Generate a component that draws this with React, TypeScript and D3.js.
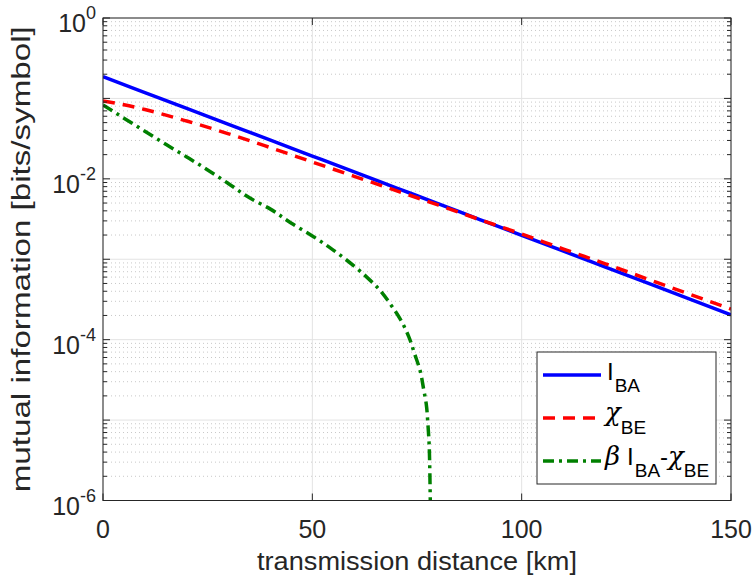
import React from "react";
import * as d3 from "d3";

const distBA = [0, 10, 20, 30, 40, 50, 60, 70, 80, 90, 100, 110, 120, 130, 140, 150];
const valBA = [0.186, 0.1181, 0.075, 0.0476, 0.0302, 0.0192, 0.0122, 0.00774, 0.00491, 0.00312, 0.00198, 0.00126, 0.000799, 0.000507, 0.000322, 0.000204];

const distBE = [0, 5, 10, 20, 30, 40, 50, 60, 70, 80, 90, 100, 110, 120, 130, 140, 150];
const valBE = [0.0932, 0.0833, 0.0727, 0.0523, 0.0363, 0.0244, 0.0162, 0.01075, 0.00714, 0.00474, 0.00311, 0.00206, 0.001338, 0.000878, 0.000569, 0.000369, 0.00024];

const distKey = [0, 5, 10, 15, 20, 25, 30, 35, 40, 45, 50, 55, 60, 63, 66, 69, 71, 73, 74.5, 75.7, 76.6, 77.2, 77.6, 77.9, 78.05, 78.15, 78.25];
const valKey = [0.083, 0.0568, 0.039, 0.0269, 0.0187, 0.0129, 0.0087, 0.0058, 0.0042, 0.0028, 0.00195, 0.0013, 0.00082, 0.0006, 0.00042, 0.00026, 0.00018, 0.00011, 6.5e-5, 4.2e-5, 2.4e-5, 1.6e-5, 9e-6, 5e-6, 2.5e-6, 1.2e-6, 6e-7];

const xTicks = [0, 50, 100, 150];
const yDecades = [0, -2, -4, -6];

const W = 756;
const H = 579;
const L = 103, R = 731, T = 18, B = 500.5;
const AX = "#262626";
const FONT = "'Liberation Sans', Arial, Helvetica, sans-serif";
const GREEK = "'DejaVu Serif', 'Liberation Serif', serif";

export default function App() {
  const x = d3.scaleLinear().domain([0, 150]).range([L, R]);
  const y = d3.scaleLog().domain([1e-6, 1]).range([B, T]);

  const line = d3
    .line<[number, number]>()
    .x((d) => x(d[0]))
    .y((d) => y(d[1]))
    .curve(d3.curveMonotoneX);

  const ba = line(distBA.map((d, i) => [d, valBA[i]] as [number, number])) || "";
  const be = line(distBE.map((d, i) => [d, valBE[i]] as [number, number])) || "";
  const key = d3
    .line<[number, number]>()
    .x((d) => x(d[0]))
    .y((d) => y(d[1]))
    .curve(d3.curveMonotoneY)(distKey.map((d, i) => [d, valKey[i]] as [number, number])) || "";

  const minor: number[] = [];
  const majors: number[] = [];
  for (let e = -6; e <= 0; e++) {
    majors.push(Math.pow(10, e));
    if (e < 0) for (let m = 2; m <= 9; m++) minor.push(m * Math.pow(10, e));
  }

  const legX = 537, legY = 352, legW = 179, legH = 132;
  const rows = [375, 418, 461];

  return (
    <svg width={W} height={H} style={{ position: "absolute", left: 0, top: 0, background: "#fff" }} fontFamily={FONT}>
      <defs>
        <clipPath id="plotclip">
          <rect x={L} y={T} width={R - L} height={B - T} />
        </clipPath>
      </defs>
      <rect x={0} y={0} width={W} height={H} fill="#fff" />
      {/* minor grid */}
      {minor.map((v, i) => (
        <line key={"mg" + i} x1={L} x2={R} y1={y(v)} y2={y(v)} stroke="#c8c8c8" strokeWidth={1} strokeDasharray="1,3" />
      ))}
      {/* major grid */}
      {majors.map((v, i) => (
        <line key={"Mg" + i} x1={L} x2={R} y1={y(v)} y2={y(v)} stroke="#e3e3e3" strokeWidth={1} />
      ))}
      {xTicks.map((t, i) => (
        <line key={"xg" + i} x1={x(t)} x2={x(t)} y1={T} y2={B} stroke="#e3e3e3" strokeWidth={1} />
      ))}
      {/* data */}
      <g clipPath="url(#plotclip)" fill="none">
        <path d={ba} stroke="#0000ff" strokeWidth={3.5} />
        <path d={be} stroke="#ff0000" strokeWidth={3.5} strokeDasharray="12,8" />
        <path d={key} stroke="#008000" strokeWidth={3.5} strokeDasharray="11,5,3,5" />
      </g>
      {/* box */}
      <rect x={L} y={T} width={R - L} height={B - T} fill="none" stroke={AX} strokeWidth={1} />
      {/* y ticks */}
      {majors.map((v, i) => (
        <g key={"yt" + i}>
          <line x1={L} x2={L + 7} y1={y(v)} y2={y(v)} stroke={AX} />
          <line x1={R} x2={R - 7} y1={y(v)} y2={y(v)} stroke={AX} />
        </g>
      ))}
      {minor.map((v, i) => (
        <g key={"ymt" + i}>
          <line x1={L} x2={L + 4} y1={y(v)} y2={y(v)} stroke={AX} />
          <line x1={R} x2={R - 4} y1={y(v)} y2={y(v)} stroke={AX} />
        </g>
      ))}
      {xTicks.map((t, i) => (
        <g key={"xt" + i}>
          <line x1={x(t)} x2={x(t)} y1={B} y2={B - 7} stroke={AX} />
          <line x1={x(t)} x2={x(t)} y1={T} y2={T + 7} stroke={AX} />
          <text x={x(t)} y={538} textAnchor="middle" fontSize={25} fill={AX}>
            {t}
          </text>
        </g>
      ))}
      {yDecades.map((e, i) => (
        <text key={"yl" + i} x={96} y={y(Math.pow(10, e)) + 14} textAnchor="end" fontSize={25} fill={AX}>
          10
          <tspan dy={-13} fontSize={18}>
            {e}
          </tspan>
        </text>
      ))}
      {/* axis labels */}
      <text
        x={(L + R) / 2 - 160}
        y={570}
        fontSize={25}
        fill={AX}
        textLength={320}
        lengthAdjust="spacingAndGlyphs"
      >
        transmission distance [km]
      </text>
      <text
        transform={`translate(30,${(T + B) / 2 + 233}) rotate(-90)`}
        fontSize={25}
        fill={AX}
        textLength={466}
        lengthAdjust="spacingAndGlyphs"
      >
        mutual information [bits/symbol]
      </text>
      {/* legend */}
      <rect x={legX} y={legY} width={legW} height={legH} fill="#fff" stroke={AX} strokeWidth={1} />
      <line x1={543} x2={601} y1={rows[0]} y2={rows[0]} stroke="#0000ff" strokeWidth={3.5} />
      <line x1={543} x2={601} y1={rows[1]} y2={rows[1]} stroke="#ff0000" strokeWidth={3.5} strokeDasharray="12,8" />
      <line x1={543} x2={601} y1={rows[2]} y2={rows[2]} stroke="#008000" strokeWidth={3.5} strokeDasharray="11,5,3,5" />
      <text x={607} y={rows[0] + 5} fontSize={24} fill="#000">
        I
        <tspan dx={1} dy={12} fontSize={19}>BA</tspan>
      </text>
      <text x={605} y={rows[1] + 3} fontSize={24} fill="#000">
        <tspan fontFamily={GREEK} fontStyle="italic" fontSize={26}>χ</tspan>
        <tspan dy={13} fontSize={19}>BE</tspan>
      </text>
      <text x={605} y={rows[2] + 4} fontSize={24} fill="#000">
        <tspan fontFamily={GREEK} fontStyle="italic" fontSize={26}>β</tspan>
        <tspan dx={7}>I</tspan>
        <tspan dx={1} dy={12} fontSize={19}>BA</tspan>
        <tspan dy={-12}>-</tspan>
        <tspan fontFamily={GREEK} fontStyle="italic" fontSize={26}>χ</tspan>
        <tspan dy={12} fontSize={19}>BE</tspan>
      </text>
    </svg>
  );
}
